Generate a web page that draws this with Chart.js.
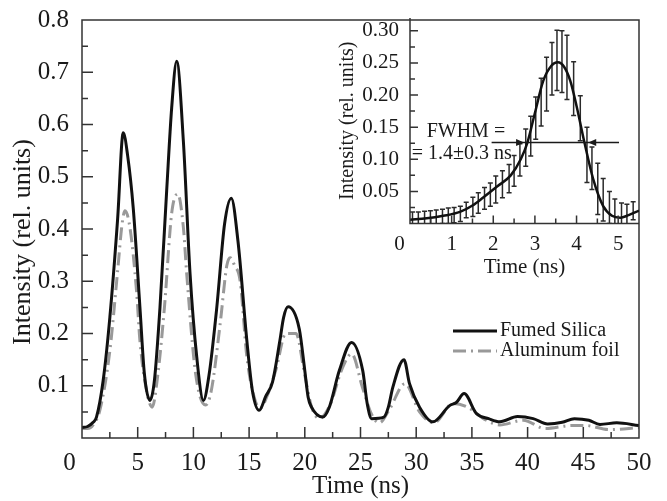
<!DOCTYPE html>
<html>
<head>
<meta charset="utf-8">
<script src="https://cdn.jsdelivr.net/npm/chart.js@4.4.1/dist/chart.umd.min.js"></script>
<style>
html, body { margin: 0; padding: 0; background: #fff; }
#wrap { position: relative; width: 667px; height: 501px; }
#main { position: absolute; left: 0; top: 0; }
#inset { position: absolute; left: 330px; top: 0; }
</style>
</head>
<body>
<div id="wrap">
  <canvas id="main" width="667" height="501"></canvas>
  <canvas id="inset" width="337" height="290"></canvas>
</div>
<script>
// main plot: intensity vs time (ns)
const silicaT = [0, 0.5, 1.0, 1.3, 1.9, 2.5, 3.2, 3.7, 4.1, 4.6, 5.2, 5.6, 6.1, 6.5, 7.0, 7.6, 8.05, 8.5, 9.1, 9.7,
    10.3, 10.9, 11.4, 12.1, 12.8, 13.4, 14.0, 14.8, 15.3, 15.9, 16.5, 17.1, 17.76, 18.1, 18.5, 19.5, 20.0, 20.3, 20.6, 21.6,
    22.2, 23.1, 24.2, 25.2, 25.6, 26.0, 27.1, 27.5, 27.9, 28.9, 29.4, 30.3, 31.5, 33.0, 33.6, 34.3, 35.4, 36.5, 37.5, 39.1,
    40.5, 41.8, 43.1, 44.2, 45.5, 46.5, 48.0, 50];
const silicaI = [0.020, 0.022, 0.030, 0.040, 0.110, 0.231, 0.420, 0.584, 0.540, 0.440, 0.250, 0.123, 0.072, 0.110, 0.250, 0.473, 0.632, 0.721, 0.568, 0.314,
    0.155, 0.072, 0.120, 0.250, 0.410, 0.459, 0.377, 0.186, 0.090, 0.053, 0.080, 0.107, 0.186, 0.231, 0.251, 0.209, 0.129, 0.078, 0.059, 0.040,
    0.059, 0.129, 0.183, 0.129, 0.066, 0.037, 0.040, 0.059, 0.097, 0.150, 0.104, 0.059, 0.031, 0.062, 0.068, 0.085, 0.047, 0.037, 0.031, 0.041,
    0.037, 0.027, 0.030, 0.037, 0.034, 0.026, 0.029, 0.024];

const foilT = [0, 0.5, 1.0, 1.6, 2.5, 3.2, 3.6, 3.86, 4.3, 4.9, 5.2, 5.8, 6.3, 6.8, 7.4, 8.05, 8.6, 9.1, 9.4, 10.2,
    11.1, 11.6, 12.4, 13.0, 13.3, 13.7, 14.2, 14.8, 15.5, 16.0, 16.7, 17.4, 18.3, 19.2, 20.0, 20.6, 21.3, 22.3, 23.3, 24.2,
    25.2, 26.0, 26.7, 27.6, 29.0, 30.3, 31.6, 33.3, 34.5, 36.3, 37.5, 39.6, 41.6, 44.0, 45.2, 47.3, 50];
const foilI = [0.018, 0.018, 0.025, 0.053, 0.167, 0.320, 0.410, 0.435, 0.403, 0.280, 0.186, 0.090, 0.059, 0.120, 0.250, 0.430, 0.467, 0.403, 0.314, 0.123,
    0.063, 0.090, 0.218, 0.330, 0.345, 0.330, 0.300, 0.155, 0.075, 0.057, 0.085, 0.130, 0.200, 0.200, 0.120, 0.060, 0.037, 0.065, 0.130, 0.161,
    0.095, 0.045, 0.029, 0.055, 0.104, 0.050, 0.029, 0.066, 0.060, 0.034, 0.025, 0.034, 0.018, 0.024, 0.024, 0.016, 0.020];

// inset: fit curve and measured points with error bars
const fitT = [0, 0.4, 0.8, 1.2, 1.5, 1.75, 2.1, 2.42, 2.66, 2.82, 3.0, 3.2, 3.4, 3.55, 3.7, 3.85, 4.0, 4.19, 4.4, 4.64,
    4.85, 5.05, 5.25, 5.5];
const fitI = [0.006, 0.008, 0.012, 0.018, 0.028, 0.040, 0.058, 0.075, 0.100, 0.126, 0.172, 0.222, 0.246, 0.251, 0.244, 0.222, 0.183, 0.126, 0.069, 0.027,
    0.012, 0.009, 0.013, 0.020];

const barT = [0.06, 0.20, 0.35, 0.49, 0.63, 0.78, 0.92, 1.06, 1.21, 1.35, 1.51, 1.64, 1.79, 1.93, 2.06, 2.22, 2.38, 2.50, 2.64, 2.78,
    2.90, 3.02, 3.15, 3.28, 3.41, 3.53, 3.65, 3.77, 3.93, 4.09, 4.25, 4.37, 4.51, 4.64, 4.79, 4.92, 5.08, 5.21, 5.36];
const barI = [0.007, 0.007, 0.008, 0.009, 0.010, 0.011, 0.012, 0.013, 0.015, 0.021, 0.026, 0.032, 0.039, 0.045, 0.053, 0.061, 0.070, 0.082, 0.099, 0.118,
    0.136, 0.164, 0.189, 0.217, 0.241, 0.254, 0.252, 0.243, 0.210, 0.164, 0.107, 0.086, 0.054, 0.037, 0.025, 0.015, 0.012, 0.012, 0.020];
const barErr = [0.011, 0.011, 0.011, 0.011, 0.011, 0.011, 0.012, 0.012, 0.012, 0.012, 0.015, 0.016, 0.017, 0.018, 0.021, 0.021, 0.022, 0.024, 0.025, 0.029,
    0.031, 0.033, 0.037, 0.042, 0.041, 0.047, 0.048, 0.050, 0.042, 0.035, 0.043, 0.033, 0.040, 0.033, 0.025, 0.023, 0.020, 0.018, 0.014];

// FWHM marker: half-max level, line extent, crossing arrows
const fwhmLevel = 0.126;
const fwhmFrom = 1.96, fwhmTo = 5.02;
const fwhmLeftTip = 2.74, fwhmRightTip = 4.28;

const serif = '"Liberation Serif", "DejaVu Serif", serif';
const ink = '#1a1a1a';

function toPoints(xs, ys) {
    return xs.map((x, i) => ({ x: x, y: ys[i] }));
}

function onStep(v, step) {
    const r = v / step;
    return Math.abs(r - Math.round(r)) < 1e-6;
}

// inward tick marks + frame (inset shares its top/right edge with the main frame)
const frameTicks = {
    id: 'frameTicks',
    afterDraw(chart, args, o) {
        const { ctx, chartArea: a } = chart;
        const x = chart.scales.x, y = chart.scales.y;
        ctx.save();
        ctx.strokeStyle = '#333';
        ctx.lineWidth = 1.5;
        ctx.beginPath();
        x.ticks.forEach(t => {
            if (!onStep(t.value, o.xMinor) || t.value <= x.min || t.value >= x.max) return;
            const p = x.getPixelForValue(t.value);
            const len = onStep(t.value, o.xMajor) ? o.major : o.minor;
            ctx.moveTo(p, a.bottom);
            ctx.lineTo(p, a.bottom - len);
        });
        y.ticks.forEach(t => {
            if (!onStep(t.value, o.yMinor) || t.value <= y.min || t.value >= y.max) return;
            const p = y.getPixelForValue(t.value);
            const len = onStep(t.value, o.yMajor) ? o.major : o.minor;
            ctx.moveTo(a.left, p);
            ctx.lineTo(a.left + len, p);
        });
        ctx.stroke();
        ctx.beginPath();
        if (o.shared) {
            ctx.moveTo(a.left, a.top);
            ctx.lineTo(a.left, a.bottom);
            ctx.lineTo(a.right, a.bottom);
        } else {
            ctx.rect(a.left, a.top, a.right - a.left, a.bottom - a.top);
        }
        ctx.stroke();
        ctx.restore();
    }
};

const sampleLegend = {
    id: 'sampleLegend',
    afterDraw(chart, args, o) {
        const { ctx, chartArea: a } = chart;
        ctx.save();
        ctx.font = '20px ' + serif;
        ctx.textBaseline = 'middle';
        ctx.fillStyle = ink;
        chart.data.datasets.forEach((ds, i) => {
            const yy = a.bottom - 107 + i * 20;
            const x0 = a.right - 186;
            ctx.strokeStyle = ds.borderColor;
            ctx.lineWidth = ds.borderWidth;
            ctx.setLineDash(ds.borderDash || []);
            ctx.beginPath();
            ctx.moveTo(x0, yy);
            ctx.lineTo(x0 + 44, yy);
            ctx.stroke();
            ctx.setLineDash([]);
            ctx.fillText(ds.label, x0 + 47, yy);
        });
        ctx.restore();
    }
};

const errorBars = {
    id: 'errorBars',
    beforeDatasetsDraw(chart) {
        const { ctx, chartArea: a } = chart;
        const x = chart.scales.x, y = chart.scales.y;
        ctx.save();
        ctx.beginPath();
        ctx.rect(a.left, a.top, a.right - a.left, a.bottom - a.top);
        ctx.clip();
        ctx.strokeStyle = '#2a2a2a';
        ctx.lineWidth = 1.5;
        ctx.beginPath();
        barT.forEach((t, i) => {
            const px = x.getPixelForValue(t);
            const hi = y.getPixelForValue(barI[i] + barErr[i]);
            const lo = y.getPixelForValue(barI[i] - barErr[i]);
            ctx.moveTo(px, hi); ctx.lineTo(px, lo);
            ctx.moveTo(px - 2.5, hi); ctx.lineTo(px + 2.5, hi);
            ctx.moveTo(px - 2.5, lo); ctx.lineTo(px + 2.5, lo);
        });
        ctx.stroke();
        ctx.restore();
    },
    afterDatasetsDraw(chart) {
        const { ctx } = chart;
        const x = chart.scales.x, y = chart.scales.y;
        const py = y.getPixelForValue(fwhmLevel);
        ctx.save();
        ctx.strokeStyle = ink;
        ctx.fillStyle = ink;
        ctx.lineWidth = 1.5;
        ctx.beginPath();
        ctx.moveTo(x.getPixelForValue(fwhmFrom), py);
        ctx.lineTo(x.getPixelForValue(fwhmTo), py);
        ctx.stroke();
        const lt = x.getPixelForValue(fwhmLeftTip), rt = x.getPixelForValue(fwhmRightTip);
        ctx.beginPath();
        ctx.moveTo(lt, py); ctx.lineTo(lt - 8, py - 3.5); ctx.lineTo(lt - 8, py + 3.5); ctx.closePath();
        ctx.moveTo(rt, py); ctx.lineTo(rt + 8, py - 3.5); ctx.lineTo(rt + 8, py + 3.5); ctx.closePath();
        ctx.fill();
        ctx.font = '20px ' + serif;
        ctx.textBaseline = 'alphabetic';
        ctx.textAlign = 'left';
        ctx.fillText('FWHM =', x.getPixelForValue(0.40), y.getPixelForValue(0.134));
        ctx.fillText('= 1.4\u00b10.3 ns', x.getPixelForValue(0.04), y.getPixelForValue(0.100));
        ctx.restore();
    }
};

Chart.defaults.font.family = serif;
Chart.defaults.color = ink;

new Chart(document.getElementById('main'), {
    type: 'line',
    data: {
        datasets: [
            {
                label: 'Fumed Silica',
                data: toPoints(silicaT, silicaI),
                borderColor: '#111',
                borderWidth: 3,
                pointRadius: 0,
                cubicInterpolationMode: 'monotone',
            },
            {
                label: 'Aluminum foil',
                data: toPoints(foilT, foilI),
                borderColor: '#999',
                borderWidth: 3,
                borderDash: [13, 5, 2, 5],
                pointRadius: 0,
                cubicInterpolationMode: 'monotone',
            },
        ],
    },
    options: {
        responsive: false,
        devicePixelRatio: 1,
        animation: false,
        layout: { padding: { left: 0, top: 18, right: 28, bottom: 0 } },
        plugins: {
            legend: { display: false },
            tooltip: { enabled: false },
            frameTicks: { xMinor: 2.5, xMajor: 5, yMinor: 0.05, yMajor: 0.1, major: 11, minor: 6, shared: false },
        },
        scales: {
            x: {
                type: 'linear',
                min: 0,
                max: 50,
                grid: { display: false },
                border: { display: false },
                ticks: {
                    stepSize: 2.5,
                    autoSkip: false,
                    includeBounds: false,
                    maxRotation: 0,
                    minRotation: 0,
                    maxTicksLimit: 100,
                    padding: 2,
                    font: { size: 25 },
                    callback: function (value) {
                        if (!onStep(value, 5)) return '';
                        return value === 0 ? '0\u2002\u2002' : String(value);
                    },
                },
                title: { display: true, text: 'Time (ns)', font: { size: 25 }, padding: { top: 0, bottom: 0 } },
                afterFit: function (scale) { scale.height = 63; },
            },
            y: {
                min: 0,
                max: 0.8,
                grid: { display: false },
                border: { display: false },
                ticks: {
                    stepSize: 0.05,
                    autoSkip: false,
                    includeBounds: false,
                    maxTicksLimit: 100,
                    padding: 5,
                    font: { size: 25 },
                    callback: function (value) {
                        return onStep(value, 0.1) && value > 0.01 ? value.toFixed(1) : '';
                    },
                },
                title: { display: true, text: 'Intensity (rel. units)    ', font: { size: 26 }, padding: { top: 8, bottom: 0 } },
                afterFit: function (scale) { scale.width = 82; },
            },
        },
    },
    plugins: [frameTicks, sampleLegend],
});

new Chart(document.getElementById('inset'), {
    type: 'line',
    data: {
        datasets: [
            {
                label: 'Fit',
                data: toPoints(fitT, fitI),
                borderColor: '#111',
                borderWidth: 2.5,
                pointRadius: 0,
                cubicInterpolationMode: 'monotone',
            },
        ],
    },
    options: {
        responsive: false,
        devicePixelRatio: 1,
        animation: false,
        layout: { padding: { left: 0, top: 18, right: 28, bottom: 0 } },
        plugins: {
            legend: { display: false },
            tooltip: { enabled: false },
            frameTicks: { xMinor: 0.5, xMajor: 1, yMinor: 0.025, yMajor: 0.05, major: 8, minor: 5, shared: true },
        },
        scales: {
            x: {
                type: 'linear',
                min: 0,
                max: 5.5,
                grid: { display: false },
                border: { display: false },
                ticks: {
                    stepSize: 0.5,
                    autoSkip: false,
                    includeBounds: false,
                    maxRotation: 0,
                    minRotation: 0,
                    maxTicksLimit: 100,
                    padding: 0,
                    font: { size: 21 },
                    callback: function (value) {
                        if (!onStep(value, 1)) return '';
                        return value === 0 ? '0\u2002\u2002' : String(value);
                    },
                },
                title: { display: true, text: 'Time (ns)', font: { size: 21 }, padding: { top: 0, bottom: 10 } },
                afterFit: function (scale) { scale.height = 66.5; },
            },
            y: {
                min: 0,
                max: 0.32,
                grid: { display: false },
                border: { display: false },
                ticks: {
                    stepSize: 0.025,
                    autoSkip: false,
                    includeBounds: false,
                    maxTicksLimit: 100,
                    padding: 3,
                    font: { size: 21 },
                    callback: function (value) {
                        return onStep(value, 0.05) && value > 0.001 ? value.toFixed(2) : '';
                    },
                },
                title: { display: true, text: 'Intensity (rel. units)', font: { size: 20 }, padding: { top: 6, bottom: 0 } },
                afterFit: function (scale) { scale.width = 80; },
            },
        },
    },
    plugins: [errorBars, frameTicks],
});
</script>
</body>
</html>
